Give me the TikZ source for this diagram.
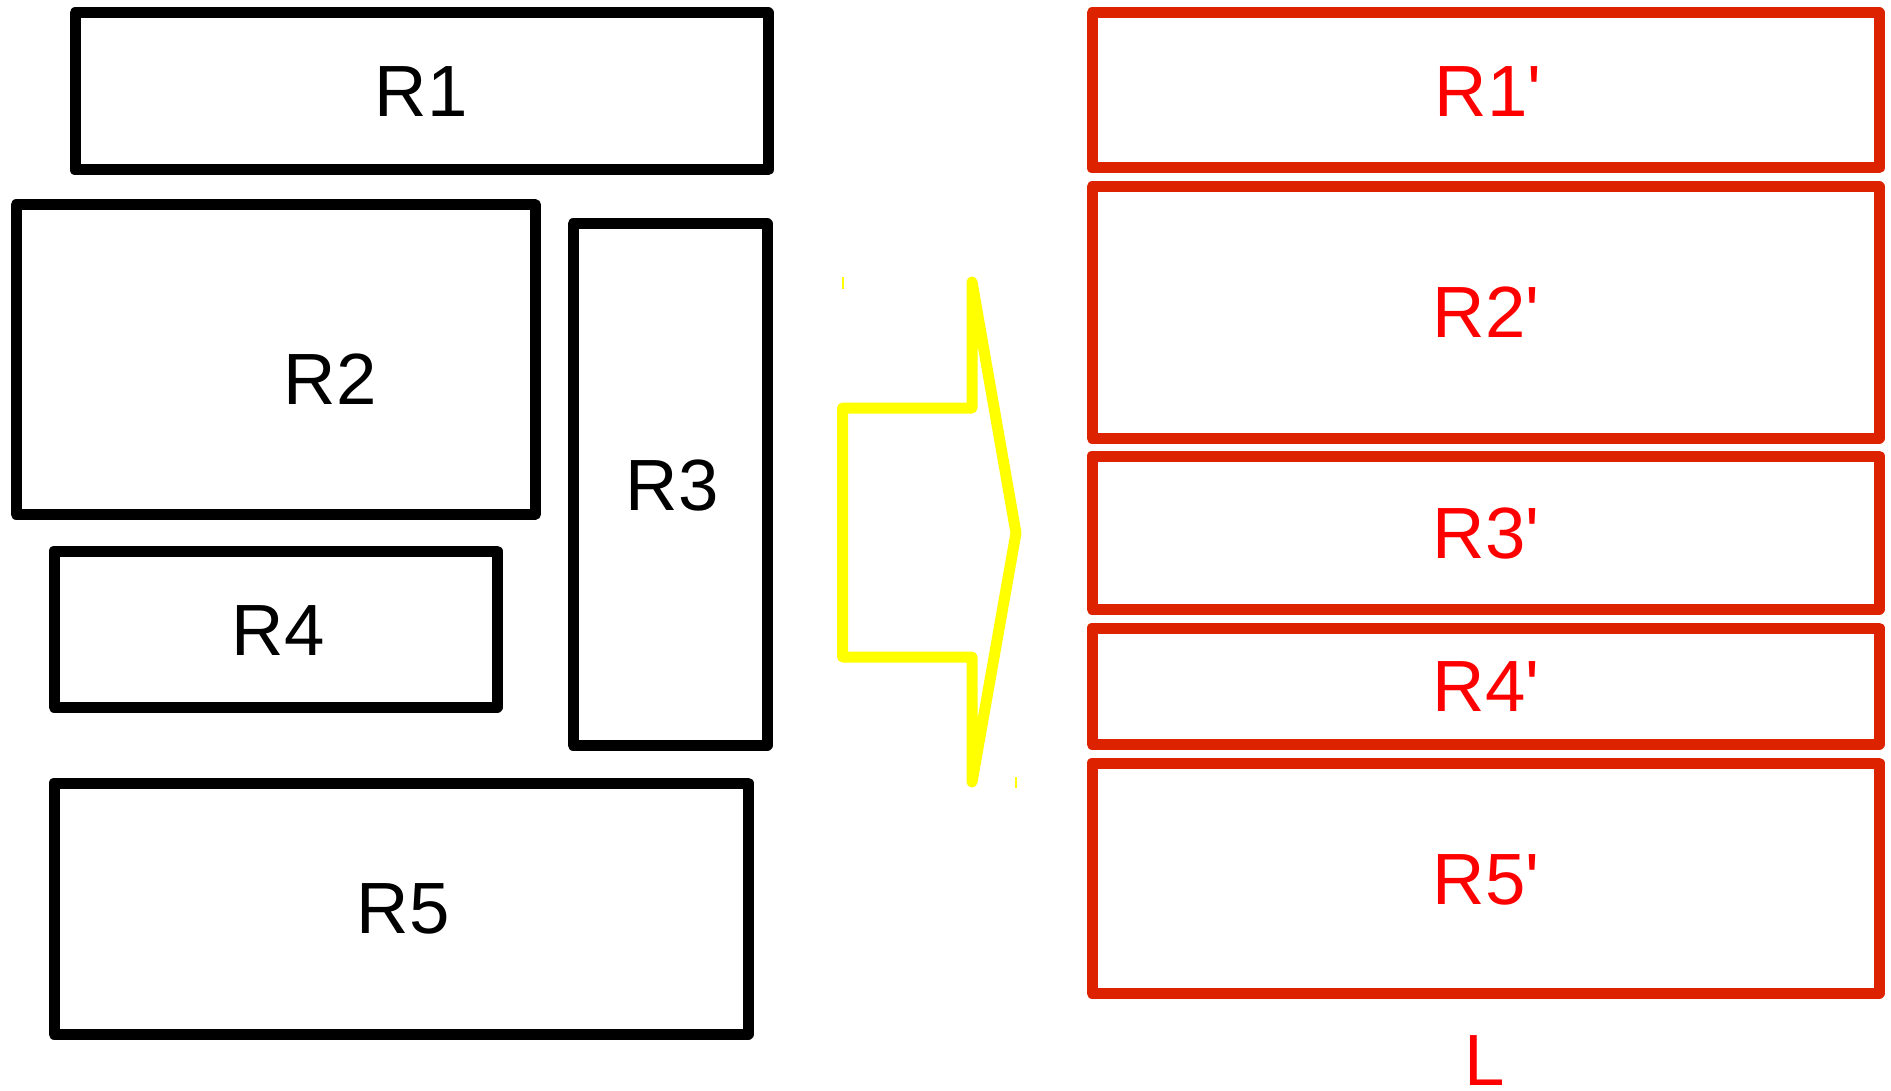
\documentclass[tikz,border=0pt]{standalone}
\usepackage{fontspec}
\setmainfont{Liberation Sans}
\definecolor{boxred}{HTML}{DD2200}
\definecolor{txtred}{HTML}{FF0000}
\definecolor{arrowyellow}{HTML}{FFFF00}
\newcommand{\prm}{\XeTeXglyph\numexpr\XeTeXcharglyph"27\relax}
\begin{document}
\begin{tikzpicture}[x=0.5pt,y=-0.5pt,
  blackbox/.style={draw=black,line width=5.5pt,line join=round},
  redbox/.style={draw=boxred,line width=5.5pt,line join=round},
  lbl/.style={anchor=base,inner sep=0pt,font=\fontsize{36.3}{40}\selectfont},
  redlbl/.style={lbl,text=txtred},
  yarrow/.style={draw=arrowyellow,line width=5.5pt,line join=round,line cap=round}]
\useasboundingbox (0,0) rectangle (1891,1091);
% left boxes
\draw[blackbox] (75,13) rectangle (768,170);
\draw[blackbox] (16,205) rectangle (535.5,514);
\draw[blackbox] (573,224) rectangle (767,745);
\draw[blackbox] (54,551) rectangle (497,707);
\draw[blackbox] (54,783) rectangle (748,1034);
\node[lbl] (r1) at (421,117) {R1};
\node[lbl] (r2) at (330,404) {R2};
\node[lbl] (r3) at (672,510) {R3};
\node[lbl] (r4) at (278,655) {R4};
\node[lbl] (r5) at (403,933) {R5};
% arrow
\draw[yarrow] (842.5,408) -- (972,408) -- (972,282) -- (1016,533) -- (972,782) -- (972,657) -- (842.5,657) -- cycle;
\draw[arrowyellow,line width=0.6pt] (843,277) -- (843,289);
\draw[arrowyellow,line width=0.6pt] (1016,777) -- (1016,788);
% right boxes
\draw[redbox] (1092,13) rectangle (1879,168);
\draw[redbox] (1092,187) rectangle (1879,438);
\draw[redbox] (1092,456) rectangle (1879,609);
\draw[redbox] (1092,628) rectangle (1879,744);
\draw[redbox] (1092,763) rectangle (1879,993);
\node[redlbl] (q1) at (1488,117) {R1\prm};
\node[redlbl] (q2) at (1486,338) {R2\prm};
\node[redlbl] (q3) at (1486,558) {R3\prm};
\node[redlbl] (q4) at (1486,711.5) {R4\prm};
\node[redlbl] (q5) at (1486,904.5) {R5\prm};
\node[redlbl] (l) at (1485,1085) {L};
\end{tikzpicture}
\end{document}
